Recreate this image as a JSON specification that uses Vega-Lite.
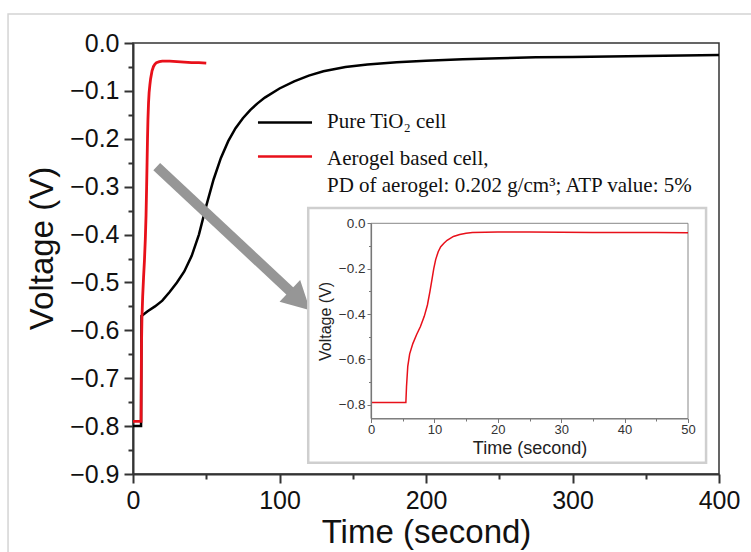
{
  "$schema": "https://vega.github.io/schema/vega-lite/v6.json",
  "width": 586,
  "height": 431,
  "autosize": {"type": "none"},
  "padding": {"left": 133, "top": 43, "right": 32, "bottom": 78},
  "background": "white",
  "data": {"values": [{}]},
  "config": {
    "view": {"stroke": "#333", "strokeWidth": 1.5},
    "axis": {"grid": false, "labelFont": "Liberation Sans", "titleFont": "Liberation Sans", "titleFontWeight": "normal", "labelFlush": false, "labelOverlap": false}
  },
  "datasets": {
    "pure": [
      {"time": 0, "voltage": -0.8}, {"time": 5.5, "voltage": -0.8}, {"time": 5.8, "voltage": -0.57},
      {"time": 8, "voltage": -0.565}, {"time": 10, "voltage": -0.56}, {"time": 15, "voltage": -0.55},
      {"time": 20, "voltage": -0.538}, {"time": 25, "voltage": -0.52}, {"time": 30, "voltage": -0.5},
      {"time": 35, "voltage": -0.477}, {"time": 40, "voltage": -0.445}, {"time": 45, "voltage": -0.4},
      {"time": 50, "voltage": -0.34}, {"time": 55, "voltage": -0.285}, {"time": 60, "voltage": -0.24},
      {"time": 65, "voltage": -0.205}, {"time": 70, "voltage": -0.178}, {"time": 75, "voltage": -0.157},
      {"time": 80, "voltage": -0.14}, {"time": 85, "voltage": -0.126}, {"time": 90, "voltage": -0.114},
      {"time": 100, "voltage": -0.095}, {"time": 110, "voltage": -0.08}, {"time": 120, "voltage": -0.068},
      {"time": 130, "voltage": -0.059}, {"time": 145, "voltage": -0.05}, {"time": 160, "voltage": -0.045},
      {"time": 180, "voltage": -0.04}, {"time": 200, "voltage": -0.037}, {"time": 225, "voltage": -0.034},
      {"time": 250, "voltage": -0.032}, {"time": 275, "voltage": -0.03}, {"time": 300, "voltage": -0.029},
      {"time": 325, "voltage": -0.028}, {"time": 350, "voltage": -0.027}, {"time": 375, "voltage": -0.026},
      {"time": 400, "voltage": -0.025}
    ],
    "aerogel": [
      {"time": 0, "voltage": -0.79}, {"time": 5.5, "voltage": -0.79}, {"time": 5.6, "voltage": -0.72},
      {"time": 5.8, "voltage": -0.63}, {"time": 6.1, "voltage": -0.575}, {"time": 6.6, "voltage": -0.53},
      {"time": 7.2, "voltage": -0.49}, {"time": 7.8, "voltage": -0.455}, {"time": 8.4, "voltage": -0.41},
      {"time": 8.9, "voltage": -0.36}, {"time": 9.3, "voltage": -0.3}, {"time": 9.6, "voltage": -0.25},
      {"time": 9.9, "voltage": -0.2}, {"time": 10.2, "voltage": -0.16}, {"time": 10.6, "voltage": -0.125},
      {"time": 11, "voltage": -0.103}, {"time": 11.5, "voltage": -0.088}, {"time": 12, "voltage": -0.075},
      {"time": 13, "voltage": -0.058}, {"time": 14, "voltage": -0.049}, {"time": 15, "voltage": -0.044},
      {"time": 16, "voltage": -0.041}, {"time": 18, "voltage": -0.039}, {"time": 20, "voltage": -0.038},
      {"time": 25, "voltage": -0.038}, {"time": 30, "voltage": -0.039}, {"time": 35, "voltage": -0.04},
      {"time": 40, "voltage": -0.041}, {"time": 45, "voltage": -0.041}, {"time": 50, "voltage": -0.042}
    ]
  },
  "layer": [
    {
      "mark": {"type": "rect", "filled": false, "stroke": "#d4d4d4", "strokeWidth": 1.5},
      "encoding": {
        "x": {"datum": -85.3, "type": "quantitative", "scale": {"domain": [0, 400], "nice": false, "zero": false}, "axis": null},
        "x2": {"datum": 440},
        "y": {"datum": 0.0605, "type": "quantitative", "scale": {"domain": [-0.9, 0], "nice": false, "zero": false}, "axis": null},
        "y2": {"datum": -1.3}
      }
    },
    {
      "data": {"name": "pure"},
      "mark": {"type": "line", "color": "#000000", "strokeWidth": 2.5},
      "encoding": {
        "x": {
          "field": "time", "type": "quantitative",
          "scale": {"domain": [0, 400], "nice": false, "zero": false},
          "axis": {
            "orient": "bottom",
            "title": "Time (second)",
            "values": [0, 50, 100, 150, 200, 250, 300, 350, 400],
            "format": "d",
            "labelExpr": "datum.value % 100 === 0 ? datum.label : ''",
            "tickSize": {"condition": {"test": "datum.value % 100 === 0", "value": 9}, "value": 5},
            "tickWidth": 2, "tickColor": "#333", "domainColor": "#333", "domainWidth": 2,
            "labelFontSize": 25, "labelColor": "#111", "labelPadding": 5,
            "titleFontSize": 33, "titleColor": "#111", "titlePadding": 3
          }
        },
        "y": {
          "field": "voltage", "type": "quantitative",
          "scale": {"domain": [-0.9, 0], "nice": false, "zero": false},
          "axis": {
            "orient": "left",
            "title": "Voltage (V)",
            "values": [-0.9, -0.85, -0.8, -0.75, -0.7, -0.65, -0.6, -0.55, -0.5, -0.45, -0.4, -0.35, -0.3, -0.25, -0.2, -0.15, -0.1, -0.05, 0],
            "format": ".1f",
            "labelExpr": "abs(datum.value*10 - round(datum.value*10)) < 0.001 ? datum.label : ''",
            "tickSize": {"condition": {"test": "abs(datum.value*10 - round(datum.value*10)) < 0.001", "value": 9}, "value": 5},
            "tickWidth": 2, "tickColor": "#333", "domainColor": "#333", "domainWidth": 2,
            "labelFontSize": 25, "labelColor": "#111", "labelPadding": 5,
            "titleFontSize": 33, "titleColor": "#111", "titlePadding": 10, "titleY": 205
          }
        }
      }
    },
    {
      "data": {"name": "aerogel"},
      "mark": {"type": "line", "color": "#e8101a", "strokeWidth": 2.8},
      "encoding": {
        "x": {"field": "time", "type": "quantitative", "scale": {"domain": [0, 400], "nice": false, "zero": false}, "axis": null},
        "y": {"field": "voltage", "type": "quantitative", "scale": {"domain": [-0.9, 0], "nice": false, "zero": false}, "axis": null}
      }
    },
    {
      "mark": {"type": "rule", "color": "#000000", "strokeWidth": 2.5},
      "encoding": {
        "x": {"datum": 85.3, "type": "quantitative", "scale": {"domain": [0, 400], "nice": false, "zero": false}, "axis": null},
        "x2": {"datum": 122.2},
        "y": {"datum": -0.166, "type": "quantitative", "scale": {"domain": [-0.9, 0], "nice": false, "zero": false}, "axis": null}
      }
    },
    {
      "mark": {"type": "rule", "color": "#e8101a", "strokeWidth": 2.5},
      "encoding": {
        "x": {"datum": 85.3, "type": "quantitative", "scale": {"domain": [0, 400], "nice": false, "zero": false}, "axis": null},
        "x2": {"datum": 122.2},
        "y": {"datum": -0.237, "type": "quantitative", "scale": {"domain": [-0.9, 0], "nice": false, "zero": false}, "axis": null}
      }
    },
    {
      "mark": {"type": "text", "text": "Pure TiO₂ cell", "font": "Liberation Serif", "fontSize": 21, "align": "left", "baseline": "alphabetic", "color": "#111"},
      "encoding": {
        "x": {"datum": 132.4, "type": "quantitative", "scale": {"domain": [0, 400], "nice": false, "zero": false}, "axis": null},
        "y": {"datum": -0.178, "type": "quantitative", "scale": {"domain": [-0.9, 0], "nice": false, "zero": false}, "axis": null}
      }
    },
    {
      "mark": {"type": "text", "text": "Aerogel based cell,", "font": "Liberation Serif", "fontSize": 21, "align": "left", "baseline": "alphabetic", "color": "#111"},
      "encoding": {
        "x": {"datum": 132.4, "type": "quantitative", "scale": {"domain": [0, 400], "nice": false, "zero": false}, "axis": null},
        "y": {"datum": -0.2548, "type": "quantitative", "scale": {"domain": [-0.9, 0], "nice": false, "zero": false}, "axis": null}
      }
    },
    {
      "mark": {"type": "text", "text": "PD of aerogel: 0.202 g/cm³; ATP value: 5%", "font": "Liberation Serif", "fontSize": 21, "align": "left", "baseline": "alphabetic", "color": "#111"},
      "encoding": {
        "x": {"datum": 132.4, "type": "quantitative", "scale": {"domain": [0, 400], "nice": false, "zero": false}, "axis": null},
        "y": {"datum": -0.3105, "type": "quantitative", "scale": {"domain": [-0.9, 0], "nice": false, "zero": false}, "axis": null}
      }
    },
    {
      "mark": {"type": "rule", "color": "#969696", "strokeWidth": 10, "strokeCap": "butt"},
      "encoding": {
        "x": {"datum": 16.2, "type": "quantitative", "scale": {"domain": [0, 400], "nice": false, "zero": false}, "axis": null},
        "x2": {"datum": 109.9},
        "y": {"datum": -0.258, "type": "quantitative", "scale": {"domain": [-0.9, 0], "nice": false, "zero": false}, "axis": null},
        "y2": {"datum": -0.526}
      }
    },
    {
      "mark": {"type": "point", "shape": "M -1 -1.07 L 1 0 L -1 1.07 Z", "size": 784, "angle": 43.5, "filled": true, "color": "#969696", "opacity": 1, "strokeWidth": 0},
      "encoding": {
        "x": {"datum": 114, "type": "quantitative", "scale": {"domain": [0, 400], "nice": false, "zero": false}, "axis": null},
        "y": {"datum": -0.5377, "type": "quantitative", "scale": {"domain": [-0.9, 0], "nice": false, "zero": false}, "axis": null}
      }
    },
    {
      "mark": {"type": "rect", "fill": "white", "stroke": "#cfcfcf", "strokeWidth": 2.5},
      "encoding": {
        "x": {"datum": -9.9, "type": "quantitative", "scale": {"domain": [0, 50], "range": [238, 555], "nice": false, "zero": false}, "axis": null},
        "x2": {"datum": 52.85},
        "y": {"datum": 0.067, "type": "quantitative", "scale": {"domain": [-0.86, 0], "range": [375.5, 180.3], "nice": false, "zero": false}, "axis": null},
        "y2": {"datum": -1.055}
      }
    },
    {
      "mark": {"type": "rect", "filled": false, "stroke": "#888888", "strokeWidth": 1},
      "encoding": {
        "x": {"datum": 0, "type": "quantitative", "scale": {"domain": [0, 50], "range": [238, 555], "nice": false, "zero": false}, "axis": null},
        "x2": {"datum": 50},
        "y": {"datum": -0.86, "type": "quantitative", "scale": {"domain": [-0.86, 0], "range": [375.5, 180.3], "nice": false, "zero": false}, "axis": null},
        "y2": {"datum": 0}
      }
    },
    {
      "data": {"name": "aerogel"},
      "mark": {"type": "line", "color": "#e8101a", "strokeWidth": 1.5},
      "encoding": {
        "x": {
          "field": "time", "type": "quantitative",
          "scale": {"domain": [0, 50], "range": [238, 555], "nice": false, "zero": false},
          "axis": {
            "orient": "bottom", "offset": -55.5, "zindex": 2,
            "title": "Time (second)",
            "values": [0, 5, 10, 15, 20, 25, 30, 35, 40, 45, 50],
            "format": "d",
            "labelExpr": "datum.value % 10 === 0 ? datum.label : ''",
            "tickSize": {"condition": {"test": "datum.value % 10 === 0", "value": 4}, "value": 2.5},
            "tickWidth": 1, "tickColor": "#777", "domainColor": "#777", "domainWidth": 1.2,
            "labelFontSize": 13, "labelColor": "#333", "labelPadding": 1,
            "titleFontSize": 18, "titleColor": "#222", "titlePadding": 3
          }
        },
        "y": {
          "field": "voltage", "type": "quantitative",
          "scale": {"domain": [-0.86, 0], "range": [375.5, 180.3], "nice": false, "zero": false},
          "axis": {
            "orient": "left", "offset": -238, "zindex": 2,
            "title": "Voltage (V)",
            "values": [-0.8, -0.7, -0.6, -0.5, -0.4, -0.3, -0.2, -0.1, 0],
            "format": ".1f",
            "labelExpr": "abs(datum.value*5 - round(datum.value*5)) < 0.001 ? datum.label : ''",
            "tickSize": {"condition": {"test": "abs(datum.value*5 - round(datum.value*5)) < 0.001", "value": 4}, "value": 2.5},
            "tickWidth": 1, "tickColor": "#777", "domainColor": "#777", "domainWidth": 1.2,
            "labelFontSize": 13.5, "labelColor": "#333", "labelPadding": 2,
            "titleFontSize": 16, "titleColor": "#222", "titlePadding": 5
          }
        }
      }
    }
  ],
  "resolve": {"scale": {"x": "independent", "y": "independent"}}
}
